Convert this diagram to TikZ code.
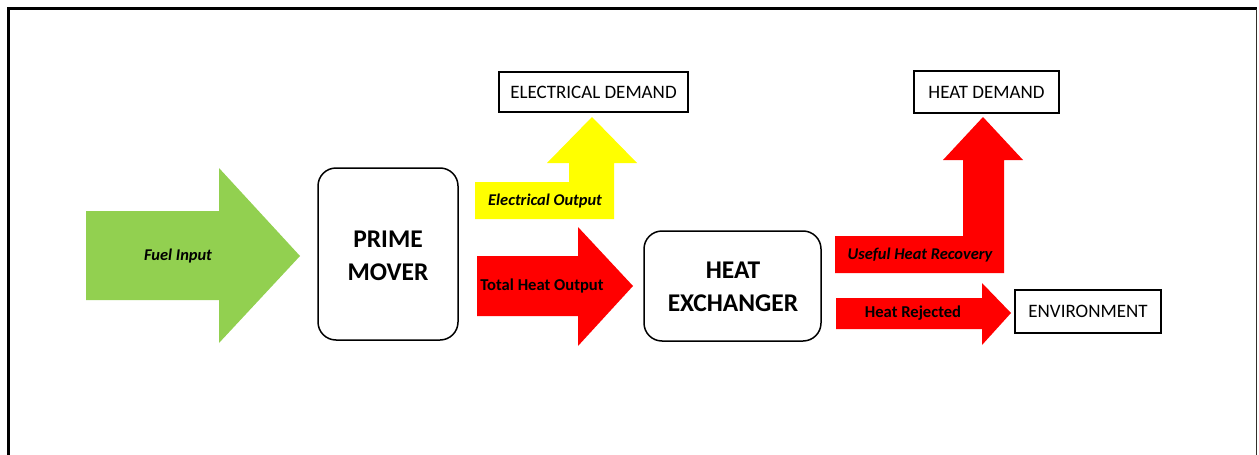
\documentclass[tikz,border=0pt]{standalone}
\usepackage{fontspec}
\setmainfont{Carlito}
\definecolor{fuelgreen}{HTML}{92D050}
\definecolor{heatred}{HTML}{FF0000}
\definecolor{elecyellow}{HTML}{FFFF00}
\begin{document}
\begin{tikzpicture}[x=1pt,y=-1pt,
  roundbox/.style={draw=black,line width=1.5pt,rounded corners=18pt},
  sqbox/.style={draw=black,line width=1.5pt},
  boxtext/.style={font=\fontsize{19}{21}\selectfont},
  bigtext/.style={font=\bfseries\fontsize{25.5}{33}\selectfont,align=center},
  arrowtext/.style={font=\bfseries\itshape\fontsize{16.4}{18}\selectfont},
  arrowtextup/.style={font=\bfseries\fontsize{16.6}{18}\selectfont}]
\useasboundingbox (0,0) rectangle (1259,455);
% frame
\draw[line width=3pt] (8.5,455) |- (1257,8.5);
\draw[line width=1.5pt,color=black!85!olive] (1256.5,8.5) -- (1256.5,455);

% Fuel input arrow
\fill[fuelgreen] (86,211) -- (219,211) -- (219,168) -- (300,256) -- (219,343) -- (219,300) -- (86,300) -- cycle;
\node[arrowtext] (fuel) at (178,256) {Fuel Input};

% Prime mover
\draw[roundbox] (318,168) rectangle (458,340);
\node[bigtext] (pm) at (388,256) {PRIME\\MOVER};

% Electrical demand box
\draw[sqbox] (499,72) rectangle (688,112);
\node[boxtext] (ed) at (593.5,92) {ELECTRICAL DEMAND};

% Electrical output arrow (bent up)
\fill[elecyellow] (475,182) -- (569,182) -- (569,163) -- (547,163) -- (592,117) -- (637,163) -- (614,163) -- (614,219) -- (475,219) -- cycle;
\node[arrowtext] (eo) at (545,201) {Electrical Output};

% Total heat output arrow
\fill[heatred] (477,256) -- (578,256) -- (578,227) -- (633,286) -- (578,346) -- (578,316) -- (477,316) -- cycle;
\node[arrowtextup] (tho) at (542,286) {Total Heat Output};

% Heat exchanger
\draw[roundbox] (644,231) rectangle (821,341);
\node[bigtext] (hx) at (733,287) {HEAT\\EXCHANGER};

% Heat demand box
\draw[sqbox] (914,71) rectangle (1059,113);
\node[boxtext] (hd) at (986.5,92) {HEAT DEMAND};

% Useful heat recovery arrow (bent up)
\fill[heatred] (835,236) -- (963,236) -- (963,160) -- (943,160) -- (983,117) -- (1023,160) -- (1004,160) -- (1004,273) -- (835,273) -- cycle;
\node[arrowtext] (uhr) at (920,255) {Useful Heat Recovery};

% Heat rejected arrow
\fill[heatred] (836,298) -- (982,298) -- (982,283) -- (1011,313) -- (982,345) -- (982,329) -- (836,329) -- cycle;
\node[arrowtextup] (hr) at (913,313) {Heat Rejected};

% Environment box
\draw[sqbox] (1015,290) rectangle (1161,333);
\node[boxtext] (env) at (1088,311.5) {ENVIRONMENT};
\end{tikzpicture}
\end{document}
